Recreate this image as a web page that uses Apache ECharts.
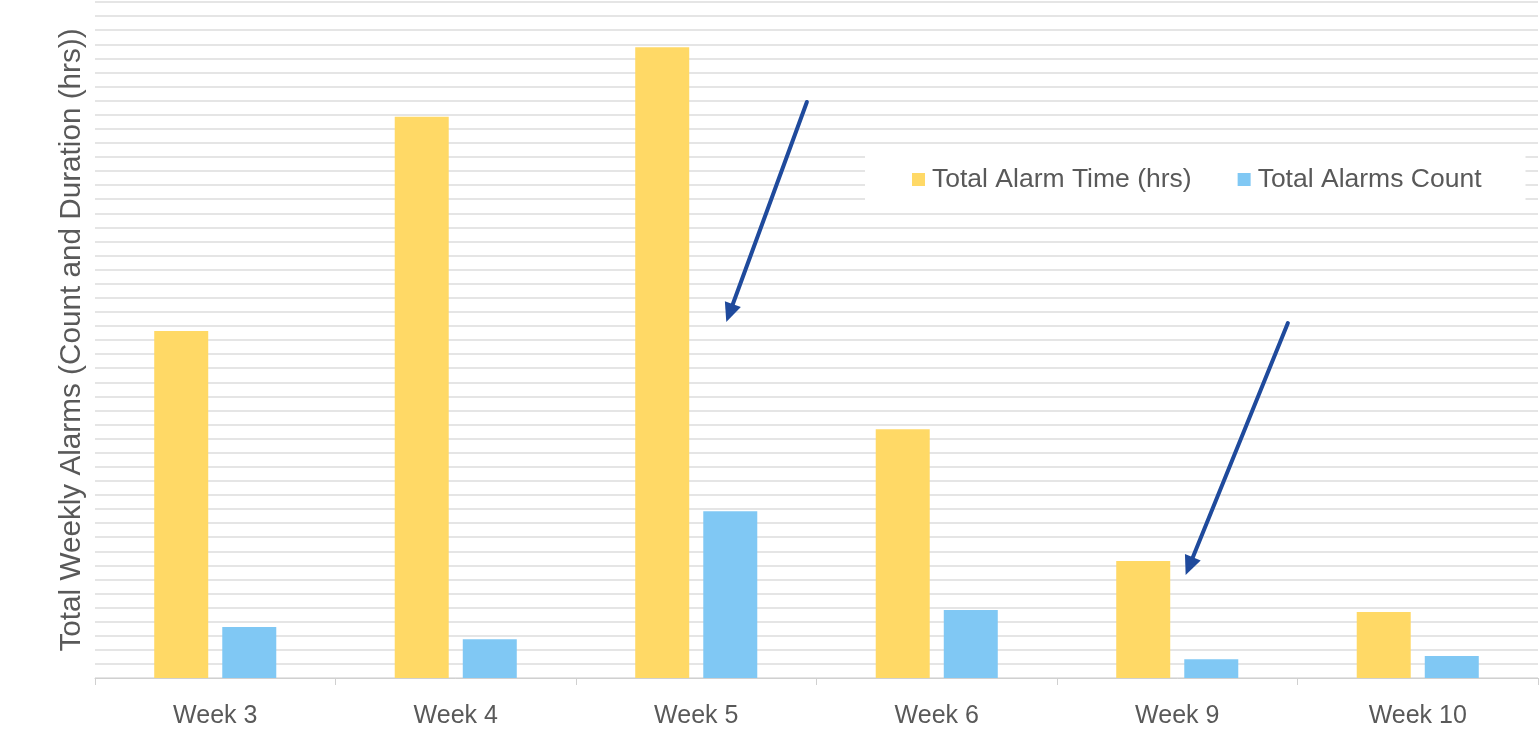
<!DOCTYPE html>
<html>
<head>
<meta charset="utf-8">
<script src="https://cdn.jsdelivr.net/npm/echarts@6/dist/echarts.min.js"></script>
<style>
  html, body { margin: 0; padding: 0; background: #fff; }
  #chart { width: 1540px; height: 740px; }
</style>
</head>
<body>
<div id="chart"></div>
<script>
// Weekly alarm totals
const weeks = ['Week 3', 'Week 4', 'Week 5', 'Week 6', 'Week 9', 'Week 10'];
const alarmTimeHrs = [123.2, 199.3, 223.9, 88.3, 41.5, 23.4];
const alarmCount = [18.1, 13.8, 59.2, 24.1, 6.7, 7.8];
const seriesNames = ['Total Alarm Time (hrs)', 'Total Alarms Count'];

// Callout arrows: category, [band offset, value] for tail and tip
const callouts = [
  { week: 'Week 5', tail: [0.46, 204.5], tip: [0.125, 126.4] },
  { week: 'Week 9', tail: [0.46, 126.0], tip: [0.035, 36.6] }
];

const textColor = '#595959';
const chart = echarts.init(document.getElementById('chart'), null, { renderer: 'canvas' });

chart.setOption({
  animation: false,
  backgroundColor: '#ffffff',
  textStyle: { fontFamily: 'Liberation Sans, Arial, sans-serif' },
  grid: { left: 95, right: 2, top: 2, bottom: 62, containLabel: false },
  legend: {
    left: 865, top: 149,
    padding: [17, 44, 16, 47],
    backgroundColor: '#ffffff',
    icon: 'rect', itemWidth: 13, itemHeight: 13, itemGap: 46,
    textStyle: { color: textColor, fontSize: 26.5, padding: [0, 0, 0, 2] },
    data: seriesNames
  },
  xAxis: {
    type: 'category',
    data: weeks,
    axisLine: { lineStyle: { color: '#d0d0d0', width: 1 } },
    axisTick: { show: true, length: 7, lineStyle: { color: '#d0d0d0' } },
    axisLabel: { color: textColor, fontSize: 25, margin: 26 }
  },
  yAxis: {
    type: 'value',
    min: 0, max: 240, interval: 5,
    name: 'Total Weekly Alarms (Count and Duration (hrs))',
    nameLocation: 'middle',
    nameGap: 8,
    nameTextStyle: { color: textColor, fontSize: 29.7 },
    axisLabel: { show: false },
    axisLine: { show: false },
    axisTick: { show: false },
    splitLine: { lineStyle: { color: '#dcdcdc', width: 1.5 } }
  },
  series: [
    {
      name: seriesNames[0], type: 'bar', data: alarmTimeHrs,
      barWidth: 54, barGap: '26%',
      itemStyle: { color: '#FFD966' }
    },
    {
      name: seriesNames[1], type: 'bar', data: alarmCount,
      barWidth: 54, barGap: '26%',
      itemStyle: { color: '#80C8F4' }
    }
  ]
});

// Place the callout arrows from data coordinates
function toPixel(week, offset, value) {
  const idx = weeks.indexOf(week);
  const c0 = chart.convertToPixel({ gridIndex: 0 }, [0, 0]);
  const c1 = chart.convertToPixel({ gridIndex: 0 }, [1, 0]);
  const band = c1[0] - c0[0];
  const p = chart.convertToPixel({ gridIndex: 0 }, [idx, value]);
  return [p[0] + offset * band, p[1]];
}

const arrowColor = '#1F4A9C';
const headLen = 19, headHalf = 8.5;
const graphics = [];
callouts.forEach(function (c) {
  const a = toPixel(c.week, c.tail[0], c.tail[1]);
  const b = toPixel(c.week, c.tip[0], c.tip[1]);
  const dx = b[0] - a[0], dy = b[1] - a[1];
  const len = Math.sqrt(dx * dx + dy * dy);
  const ux = dx / len, uy = dy / len;
  const base = [b[0] - ux * headLen, b[1] - uy * headLen];
  graphics.push({
    type: 'line', silent: true,
    shape: { x1: a[0], y1: a[1], x2: base[0] + ux * 2, y2: base[1] + uy * 2 },
    style: { stroke: arrowColor, lineWidth: 4, lineCap: 'round' }
  });
  graphics.push({
    type: 'polygon', silent: true,
    shape: { points: [
      b,
      [base[0] - uy * headHalf, base[1] + ux * headHalf],
      [base[0] + uy * headHalf, base[1] - ux * headHalf]
    ] },
    style: { fill: arrowColor }
  });
});
chart.setOption({ graphic: graphics });
</script>
</body>
</html>
